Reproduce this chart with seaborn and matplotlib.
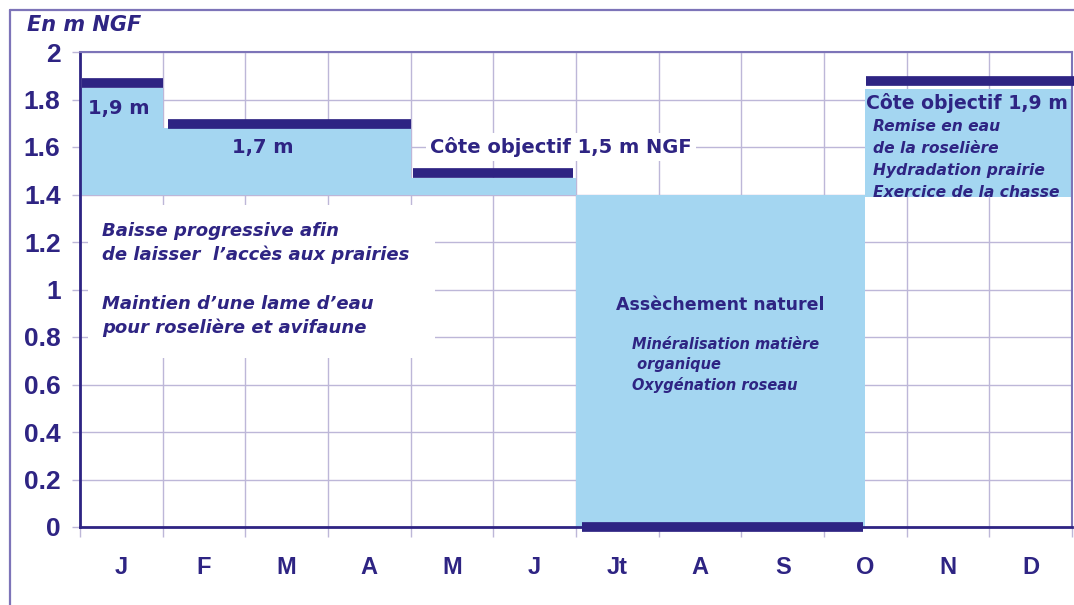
import numpy as np
import pandas as pd
import seaborn as sns
import matplotlib.pyplot as plt
from matplotlib.lines import Line2D
from matplotlib.patches import Rectangle

# month labels and y ticks
months = ['J', 'F', 'M', 'A', 'M', 'J', 'Jt', 'A', 'S', 'O', 'N', 'D']
y_ticks = [0, 0.2, 0.4, 0.6, 0.8, 1, 1.2, 1.4, 1.6, 1.8, 2]
y_labels = ['0', '0.2', '0.4', '0.6', '0.8', '1', '1.2', '1.4', '1.6', '1.8', '2']

# water periods (x in months from 1st of january)
fill_start = [0, 1, 4, 6, 9.5]
fill_end = [1, 4, 6, 9.5, 12]
fill_low = [1.4, 1.4, 1.4, 0.0, 1.39]
fill_high = [1.85, 1.68, 1.47, 1.4, 1.845]

# target level bars
bar_start = [0.02, 1.06, 4.03, 6.07, 9.51]
bar_end = [1.0, 4.0, 5.96, 9.47, 12.03]
bar_level = [1.87, 1.695, 1.49, 0.0, 1.88]

navy = '#2e2483'
water = '#a4d6f1'
grid_col = '#bdb7d8'
frame_col = '#7d74b8'

sns.set_style('white')
plt.rcParams['font.family'] = ['DejaVu Sans']

fig = plt.figure(figsize=(10.74, 6.05), dpi=100)
ax = fig.add_axes([80 / 1074, 1 - 527 / 605, 992 / 1074, 475 / 605])

# outer frame
fig.add_artist(Line2D([10 / 1074, 10 / 1074], [0, 1 - 10 / 605], color=frame_col, lw=1.6))
fig.add_artist(Line2D([10 / 1074, 1], [1 - 10 / 605, 1 - 10 / 605], color=frame_col, lw=1.6))

# water fill
for s, e, lo, hi in zip(fill_start, fill_end, fill_low, fill_high):
    ax.fill_between([s, e], [lo, lo], [hi, hi], color=water, lw=0, zorder=1)

# level bars
rows = []
for i, (s, e, lv) in enumerate(zip(bar_start, bar_end, bar_level)):
    rows.append({'seg': i, 'x': s, 'level': lv})
    rows.append({'seg': i, 'x': e, 'level': lv})
df = pd.DataFrame(rows)
sns.lineplot(data=df, x='x', y='level', units='seg', estimator=None, color=navy,
             lw=7, solid_capstyle='butt', clip_on=False, zorder=5, ax=ax)

ax.set_xlim(0, 12)
ax.set_ylim(0, 2)
ax.set_xlabel('')
ax.set_ylabel('')

# grid and ticks
ax.set_axisbelow(True)
ax.set_xticks(range(13))
ax.set_xticklabels([])
ax.set_xticks(np.arange(12) + 0.5, minor=True)
ax.set_xticklabels(months, minor=True)
ax.set_yticks(y_ticks)
ax.set_yticklabels(y_labels)
ax.grid(True, which='major', color=grid_col, lw=1)
ax.tick_params(axis='x', which='major', length=7, width=1, color=grid_col, direction='out', bottom=True)
ax.tick_params(axis='x', which='minor', length=0, pad=21, labelsize=17, labelcolor=navy)
ax.tick_params(axis='y', length=6, width=1, color=grid_col, left=True, pad=8, labelsize=19, labelcolor=navy)
for lab in ax.get_xticklabels(minor=True) + ax.get_yticklabels():
    lab.set_fontweight('bold')
    lab.set_family(['Liberation Sans Narrow', 'Liberation Sans', 'DejaVu Sans'])

for side in ['left', 'bottom']:
    ax.spines[side].set_color(navy)
    ax.spines[side].set_linewidth(2)
for side in ['top', 'right']:
    ax.spines[side].set_color(frame_col)
    ax.spines[side].set_linewidth(1.5)

# white box behind the left annotation
ax.add_patch(Rectangle((0.1, 0.71), 4.19, 0.645, facecolor='white', edgecolor='none', zorder=2))

fig.text(27 / 1074, 1 - 25 / 605, 'En m NGF', color=navy, fontsize=15, fontweight='bold',
         fontstyle='italic', va='center', ha='left')

ax.text(0.1, 1.764, '1,9 m', color=navy, fontsize=14, fontweight='bold', va='center', zorder=6)
ax.text(2.21, 1.6, '1,7 m', color=navy, fontsize=14, fontweight='bold', va='center', ha='center', zorder=6)
ax.text(4.235, 1.6, 'Côte objectif 1,5 m NGF', color=navy, fontsize=14, fontweight='bold', va='center',
        zorder=6, bbox=dict(facecolor='white', edgecolor='none', pad=3))
ax.text(9.51, 1.785, 'Côte objectif 1,9 m', color=navy, fontsize=13.6, fontweight='bold', va='center', zorder=6,
        clip_on=False)
ax.text(9.59, 1.718, 'Remise en eau\nde la roselière\nHydradation prairie\nExercice de la chasse',
        color=navy, fontsize=11.2, fontweight='bold', fontstyle='italic', va='top', linespacing=1.58, zorder=6)

ax.text(0.27, 1.196, 'Baisse progressive afin\nde laisser  l\u2019accès aux prairies', color=navy, fontsize=13,
        fontweight='bold', fontstyle='italic', va='center', linespacing=1.4, zorder=6)
ax.text(0.27, 0.888, 'Maintien d\u2019une lame d\u2019eau\npour roselière et avifaune', color=navy, fontsize=13,
        fontweight='bold', fontstyle='italic', va='center', linespacing=1.4, zorder=6)

ax.text(7.74, 0.935, 'Assèchement naturel', color=navy, fontsize=12.5, fontweight='bold', va='center',
        ha='center', zorder=6)
ax.text(6.68, 0.8, 'Minéralisation matière\n organique\nOxygénation roseau', color=navy, fontsize=10.5,
        fontweight='bold', fontstyle='italic', va='top', linespacing=1.4, zorder=6)

fig.savefig('out.png', dpi=100)
